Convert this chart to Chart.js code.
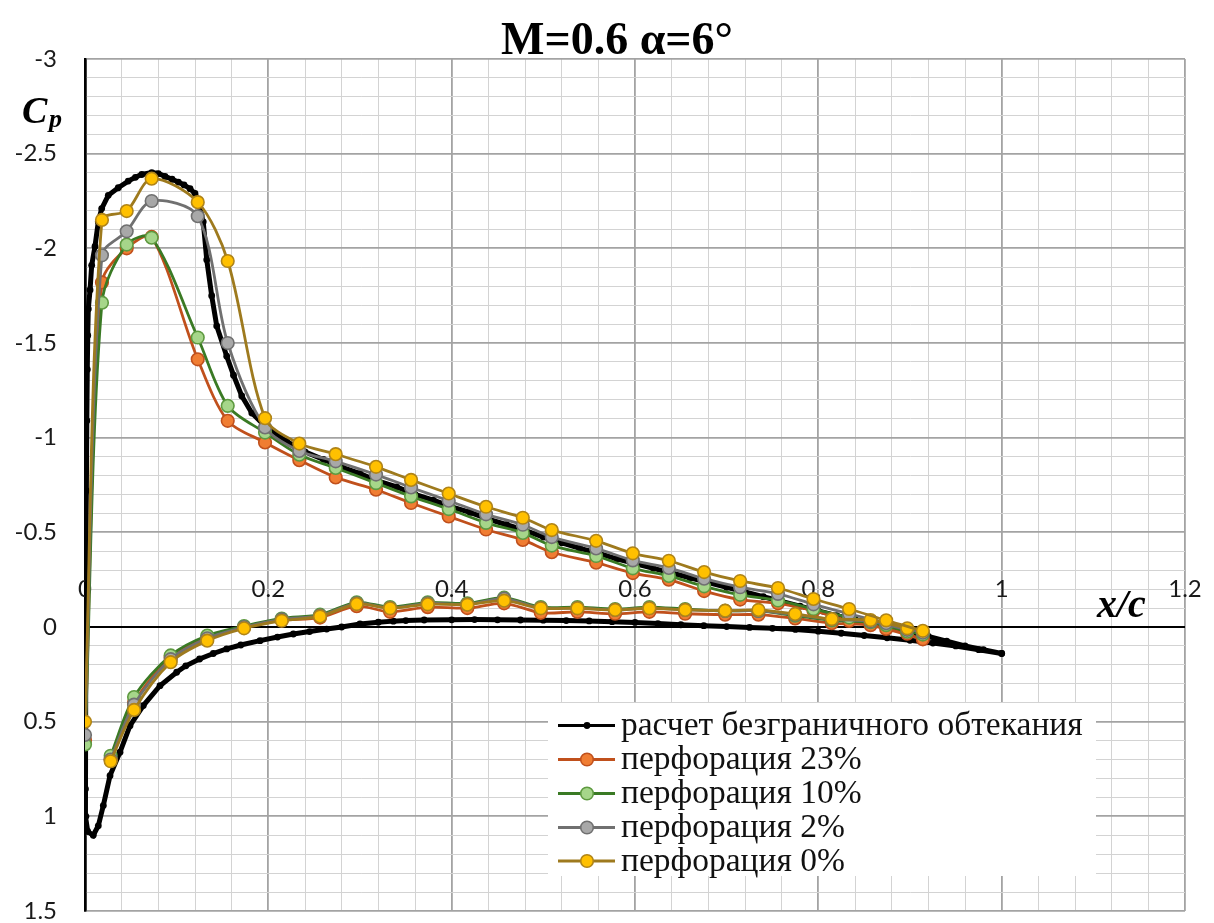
<!DOCTYPE html>
<html><head><meta charset="utf-8">
<script src="https://cdn.jsdelivr.net/npm/chart.js@4.4.1/dist/chart.umd.min.js"></script>
<style>html,body{margin:0;padding:0;background:#fff;overflow:hidden}#wrap{position:relative;width:1214px;height:923px}canvas{display:block}</style>
</head><body><div id="wrap"><canvas id="c" width="1214" height="923" style="width:1214px;height:923px"></canvas></div>
<script>
// ---- texts ----
const TITLE = 'M=0.6 α=6°';
const SERIES_NAMES = ['расчет безграничного обтекания','перфорация 23%','перфорация 10%','перфорация 2%','перфорация 0%'];
const X_TICKS = [0, 0.2, 0.4, 0.6, 0.8, 1, 1.2];
const X_TICK_LABELS = ['0','0.2','0.4','0.6','0.8','1','1.2'];
const Y_TICKS = [-3, -2.5, -2, -1.5, -1, -0.5, 0, 0.5, 1, 1.5];
const Y_TICK_LABELS = ['-3','-2.5','-2','-1.5','-1','-0.5','0','0.5','1','1.5'];

// ---- computation (boundless flow), upper TE -> LE -> lower TE ----
const CALC_X = [1.00,0.98,0.96,0.94,0.92,0.90,0.88,0.86,0.84,0.82,0.80,0.78,0.76,0.74,0.72,0.70,0.68,0.66,0.64,0.62,0.60,0.58,0.56,0.54,0.52,0.50,0.48,0.46,0.44,0.42,0.40,0.38,0.36,0.34,0.32,0.30,0.28,0.26,0.24,0.22,0.20,0.1945,0.182,0.171,0.162,0.1546,0.1437,0.1382,0.1328,0.129,0.124,0.12,0.1146,0.108,0.1018,0.095,0.0873,0.08,0.0728,0.0619,0.055,0.0472,0.0363,0.0254,0.0182,0.0145,0.0109,0.0073,0.0055,0.0036,0.003,0.0025,0.002,0.0015,0.001,0.0,
  0.0005,0.001,0.003,0.009,0.0145,0.02,0.0273,0.0382,0.0491,0.0636,0.0818,0.1,0.11,0.125,0.14,0.1546,0.17,0.191,0.21,0.2273,0.245,0.2636,0.28,0.30,0.32,0.3364,0.35,0.37,0.40,0.425,0.45,0.475,0.50,0.525,0.55,0.575,0.60,0.625,0.65,0.675,0.70,0.725,0.75,0.775,0.80,0.825,0.85,0.875,0.90,0.925,0.95,0.975,1.00];
const CALC_CP = [0.14,0.12,0.10,0.075,0.05,0.025,0.0,-0.02,-0.04,-0.06,-0.085,-0.11,-0.135,-0.16,-0.185,-0.21,-0.235,-0.26,-0.285,-0.31,-0.335,-0.36,-0.39,-0.415,-0.445,-0.475,-0.51,-0.54,-0.57,-0.605,-0.635,-0.67,-0.70,-0.74,-0.77,-0.81,-0.845,-0.885,-0.925,-0.98,-1.05,-1.07,-1.13,-1.22,-1.33,-1.43,-1.59,-1.75,-1.94,-2.14,-2.25,-2.29,-2.315,-2.335,-2.35,-2.365,-2.38,-2.395,-2.40,-2.39,-2.375,-2.355,-2.32,-2.28,-2.21,-2.14,-2.01,-1.91,-1.78,-1.68,-1.54,-1.36,-1.09,-0.72,-0.30,0.20,
  0.855,1.00,1.08,1.10,1.05,0.943,0.785,0.661,0.521,0.415,0.31,0.239,0.205,0.169,0.14,0.116,0.095,0.072,0.053,0.037,0.024,0.011,0.0,-0.016,-0.025,-0.031,-0.034,-0.037,-0.038,-0.039,-0.038,-0.037,-0.036,-0.034,-0.032,-0.028,-0.024,-0.018,-0.012,-0.007,-0.002,0.002,0.007,0.013,0.022,0.033,0.045,0.057,0.07,0.085,0.10,0.12,0.14];

// ---- experiment, upper surface (starts at stagnation point) ----
const EXP_UP_X = [0,0.0185,0.0455,0.0727,0.123,0.1557,0.1964,0.2338,0.2735,0.3175,0.3557,0.3968,0.4375,0.4776,0.5092,0.5576,0.5976,0.6369,0.6754,0.7147,0.756,0.7947,0.8336,0.874,0.914];
const P23_UP = [0.60,-1.82,-2.00,-2.06,-1.414,-1.089,-0.975,-0.881,-0.79,-0.725,-0.655,-0.584,-0.515,-0.46,-0.395,-0.34,-0.285,-0.25,-0.19,-0.145,-0.125,-0.086,-0.032,0.01,0.065];
const P10_UP = [0.62,-1.713,-2.02,-2.056,-1.529,-1.168,-1.027,-0.91,-0.84,-0.76,-0.69,-0.623,-0.55,-0.497,-0.43,-0.375,-0.31,-0.27,-0.215,-0.17,-0.14,-0.095,-0.05,-0.01,0.04];
const P2_UP  = [0.57,-1.963,-2.09,-2.25,-2.17,-1.50,-1.054,-0.93,-0.875,-0.805,-0.737,-0.667,-0.595,-0.54,-0.475,-0.415,-0.352,-0.312,-0.255,-0.21,-0.175,-0.12,-0.07,-0.02,0.03];
const P0_UP  = [0.50,-2.15,-2.197,-2.368,-2.244,-1.933,-1.103,-0.969,-0.913,-0.846,-0.777,-0.705,-0.635,-0.577,-0.512,-0.455,-0.389,-0.35,-0.29,-0.243,-0.206,-0.148,-0.095,-0.035,0.02];

// ---- experiment, lower surface ----
const EXP_LO_X = [0.028,0.0535,0.0935,0.1334,0.1735,0.2146,0.2564,0.2964,0.3328,0.3739,0.4171,0.4572,0.4972,0.5372,0.5783,0.6157,0.6547,0.6983,0.7347,0.7747,0.8147,0.857,0.897];
const P23_LO = [0.70,0.40,0.16,0.055,0.0,-0.035,-0.05,-0.11,-0.08,-0.105,-0.10,-0.125,-0.075,-0.08,-0.07,-0.08,-0.07,-0.065,-0.065,-0.045,-0.02,-0.01,0.035];
const P10_LO = [0.68,0.37,0.15,0.045,-0.005,-0.045,-0.065,-0.13,-0.105,-0.13,-0.125,-0.155,-0.105,-0.105,-0.095,-0.105,-0.095,-0.085,-0.085,-0.06,-0.035,-0.025,0.025];
const P2_LO  = [0.70,0.41,0.17,0.06,0.0,-0.04,-0.06,-0.125,-0.10,-0.125,-0.12,-0.15,-0.10,-0.10,-0.09,-0.10,-0.09,-0.085,-0.085,-0.065,-0.04,-0.03,0.015];
const P0_LO  = [0.709,0.438,0.186,0.072,0.007,-0.033,-0.056,-0.121,-0.099,-0.12,-0.118,-0.139,-0.099,-0.099,-0.09,-0.099,-0.09,-0.086,-0.09,-0.069,-0.042,-0.037,0.007];

// ---- styles ----
const STYLE = [
  {line:'#000000', fill:'#000000', edge:'#000000', r:3.4, lw:5, bw:0, llw:3},
  {line:'#C0501C', fill:'#F07D32', edge:'#C0501C', r:6.3, lw:2.8, bw:1.6, llw:3},
  {line:'#3A7A24', fill:'#A6D68A', edge:'#5E9A40', r:6.3, lw:2.8, bw:1.6, llw:3},
  {line:'#707070', fill:'#A8A8A8', edge:'#707070', r:6.3, lw:2.8, bw:1.6, llw:3},
  {line:'#9E7A1E', fill:'#FFC000', edge:'#B08418', r:6.3, lw:2.8, bw:1.6, llw:3}
];

const pts = (xs, ys) => xs.map((x, i) => ({x: x, y: ys[i]}));
function ds(si, xs, ys, tension) {
  const s = STYLE[si];
  return {data: pts(xs, ys), showLine: true, borderColor: s.line, borderWidth: s.lw,
    backgroundColor: s.fill, pointBackgroundColor: s.fill, pointBorderColor: s.edge,
    pointBorderWidth: s.bw, pointRadius: s.r, pointHoverRadius: s.r, tension: tension};
}
const datasets = [
  ds(4, EXP_UP_X, P0_UP, 0.3), ds(4, EXP_LO_X, P0_LO, 0.3),
  ds(3, EXP_UP_X, P2_UP, 0.3), ds(3, EXP_LO_X, P2_LO, 0.3),
  ds(2, EXP_UP_X, P10_UP, 0.3), ds(2, EXP_LO_X, P10_LO, 0.3),
  ds(1, EXP_UP_X, P23_UP, 0.3), ds(1, EXP_LO_X, P23_LO, 0.3),
  ds(0, CALC_X, CALC_CP, 0)
];

const isMul = (v, s) => Math.abs(v / s - Math.round(v / s)) < 1e-6;
const TICK_FONT = '24px Lato';
const SERIF = '"Liberation Serif", "Times New Roman", serif';

const deco = {
  id: 'deco',
  beforeDatasetsDraw(chart) {
    const c = chart.ctx, xs = chart.scales.x, ys = chart.scales.y;
    c.save();
    c.font = TICK_FONT; c.fillStyle = '#1a1a1a';
    c.textAlign = 'center'; c.textBaseline = 'middle';
    const y0 = ys.getPixelForValue(0);
    X_TICKS.forEach((v, i) => c.fillText(X_TICK_LABELS[i], xs.getPixelForValue(v), y0 - 38));
    c.restore();
  },
  afterDraw(chart) {
    const c = chart.ctx;
    c.save();
    // title
    c.fillStyle = '#000'; c.textAlign = 'center'; c.textBaseline = 'alphabetic';
    c.font = 'bold 46px ' + SERIF;
    c.fillText(TITLE, 617, 54);
    // axis titles
    c.textAlign = 'left';
    c.font = 'italic bold 38px ' + SERIF;
    c.fillText('C', 22, 123);
    c.font = 'italic bold 26px ' + SERIF;
    c.fillText('p', 49, 127);
    c.font = 'italic bold 40px ' + SERIF;
    c.fillText('x/c', 1097, 617);
    // legend
    const bx = 548, by = 703, bw = 548, bh = 173;
    c.fillStyle = '#ffffff';
    c.fillRect(bx, by, bw, bh);
    const rows = [725.5, 759.5, 793.5, 827.5, 861];
    SERIES_NAMES.forEach((name, i) => {
      const s = STYLE[i], y = rows[i];
      c.strokeStyle = s.line; c.lineWidth = s.llw;
      c.beginPath(); c.moveTo(558, y); c.lineTo(615, y); c.stroke();
      c.beginPath(); c.arc(587, y, s.r, 0, Math.PI * 2);
      c.fillStyle = s.fill; c.fill();
      if (s.bw > 0) { c.lineWidth = s.bw; c.strokeStyle = s.edge; c.stroke(); }
      c.fillStyle = '#111'; c.font = '33.5px ' + SERIF; c.textBaseline = 'middle';
      c.fillText(name, 621, y + 1);
    });
    c.restore();
  }
};

new Chart(document.getElementById('c'), {
  type: 'scatter',
  data: {datasets: datasets},
  options: {
    responsive: false, maintainAspectRatio: false, animation: false, events: [],
    layout: {autoPadding: false, padding: {left: 0, right: 29, top: 59, bottom: 12}},
    plugins: {legend: {display: false}, tooltip: {enabled: false}, title: {display: false}},
    scales: {
      x: {
        type: 'linear', min: 0, max: 1.2,
        ticks: {stepSize: 0.04, display: false, autoSkip: false},
        grid: {
          drawTicks: false,
          color: (ctx) => { const v = ctx.tick.value; return Math.abs(v) < 1e-9 ? '#000' : (isMul(v, 0.2) ? '#A3A3A3' : '#D3D3D3'); },
          lineWidth: (ctx) => { const v = ctx.tick.value; return Math.abs(v) < 1e-9 ? 2.5 : (isMul(v, 0.2) ? 1.8 : 1); }
        },
        border: {display: false},
        afterFit: (s) => { s.height = 0; s.paddingLeft = 0; s.paddingRight = 0; }
      },
      y: {
        type: 'linear', reverse: true, min: -3, max: 1.5,
        ticks: {
          stepSize: 0.1, autoSkip: false, padding: 28, color: '#1a1a1a',
          font: {family: 'Lato', size: 24},
          callback: (v) => { const i = Y_TICKS.findIndex(t => Math.abs(t - v) < 1e-6); return i >= 0 ? Y_TICK_LABELS[i] : ''; }
        },
        grid: {
          drawTicks: false,
          color: (ctx) => { const v = ctx.tick.value; return Math.abs(v) < 1e-9 ? '#000' : (isMul(v, 0.5) ? '#A3A3A3' : '#D3D3D3'); },
          lineWidth: (ctx) => { const v = ctx.tick.value; return Math.abs(v) < 1e-9 ? 2 : (isMul(v, 0.5) ? 1.8 : 1); }
        },
        border: {display: true, color: '#000', width: 2.5},
        afterFit: (s) => { s.width = 85; s.paddingTop = 0; s.paddingBottom = 0; }
      }
    }
  },
  plugins: [deco]
});
</script></body></html>
